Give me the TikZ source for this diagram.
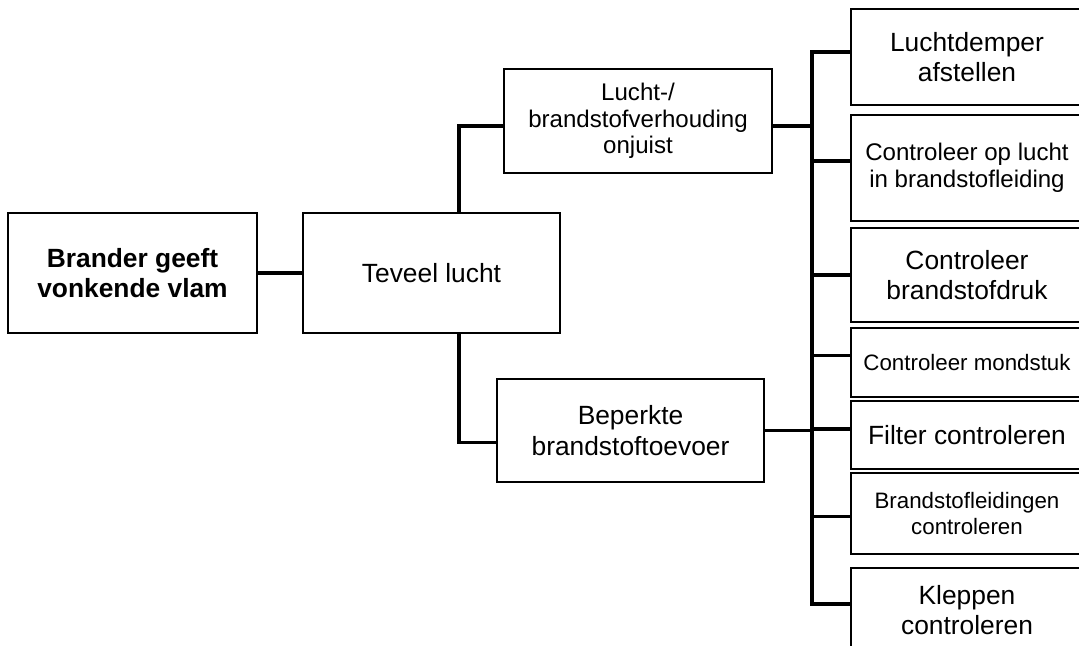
\documentclass[tikz,border=0pt]{standalone}
\usepackage{fontspec}
\setmainfont{Liberation Sans}
\usetikzlibrary{calc}
\tikzset{
  box/.style={draw, line width=1.1pt, align=center, inner sep=0pt},
  link/.style={line width=1.9pt},
  big/.style={font=\fontsize{15}{17.5}\selectfont},
  mid/.style={font=\fontsize{13.7}{15.2}\selectfont},
  small/.style={font=\fontsize{12.7}{15}\selectfont},
  rbox/.style={box, minimum width=4.64cm},
}
\begin{document}
\begin{tikzpicture}[x=0.02cm,y=-0.02cm]
  %	\draw[very thin,densely dashed] (0,0) grid[step=50] (1079,646);
  \useasboundingbox (0,0) rectangle (1079,646);
  \node[box,big,minimum width=4.98cm,minimum height=2.4cm] (brander) at (132.5,273) {\bfseries Brander geeft\\\bfseries vonkende vlam};
  \node[box,big,minimum width=5.14cm,minimum height=2.4cm] (teveel) at (431.5,273) {Teveel lucht};
  \node[box,mid,minimum width=5.36cm,minimum height=2.08cm] (lucht) at (638,121) {Lucht-/\\brandstofverhouding\\onjuist};
  \node[box,big,minimum width=5.34cm,minimum height=2.06cm] (beperkt) at (630.5,430.5) {Beperkte\\brandstoftoevoer};
  \node[rbox,big,minimum height=1.92cm] (r1) at (967,57) {Luchtdemper\\afstellen};
  \node[rbox,mid,minimum height=2.12cm] (r2) at (967,168) {Controleer op lucht\\in brandstofleiding};
  \node[rbox,big,minimum height=1.88cm] (r3) at (967,275) {Controleer\\brandstofdruk};
  \node[rbox,small,minimum height=1.38cm] (r4) at (967,362.5) {Controleer mondstuk};
  \node[rbox,big,minimum height=1.36cm] (r5) at (967,435) {Filter controleren};
  \node[rbox,small,minimum height=1.62cm] (r6) at (967,513.5) {Brandstofleidingen\\controleren};
  \node[rbox,big,minimum height=1.68cm] (r7) at (967,610) {Kleppen\\controleren};
  \coordinate (split) at (459,273);
  \coordinate (bus) at (812,330);
  \draw[link] (brander) -- (teveel)
    (teveel.north -| split) |- ($(lucht.west)+(0,5)$)
    (teveel.south -| split) |- ($(beperkt.west)+(0,12)$)
    ($(lucht.east)+(0,5)$) -- ($(lucht.east -| bus)+(0,5)$)
    (beperkt.east) -- (beperkt.east -| bus)
    ($(r1.west)+(0,-5)$) -- ($(r1.west -| bus)+(0,-5)$) -- ($(r7.west -| bus)+(0,-6)$) -- ($(r7.west)+(0,-6)$);
  \foreach \i/\d in {2/-7,3/0,4/-7,5/-6,6/3}
    \draw[link] ($(r\i.west -| bus)+(0,\d)$) -- ($(r\i.west)+(0,\d)$);
\end{tikzpicture}
\end{document}
